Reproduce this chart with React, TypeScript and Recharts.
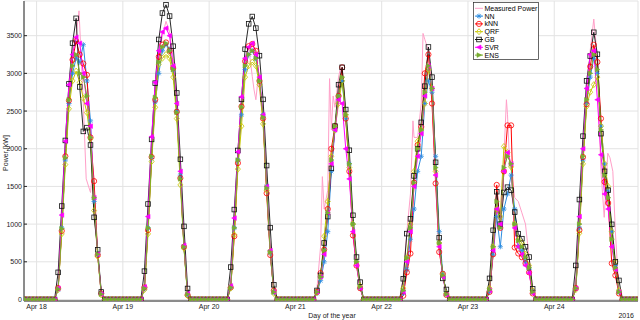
import React from 'react';
import { ComposedChart, Line, XAxis, YAxis, CartesianGrid } from 'recharts';

const FONT = '"Liberation Sans", Arial, Helvetica, sans-serif';

const dayTicks = [0, 24, 48, 72, 96, 120, 144];
const dayLabels = ['Apr 18', 'Apr 19', 'Apr 20', 'Apr 21', 'Apr 22', 'Apr 23', 'Apr 24'];
const powerTicks = [0, 500, 1000, 1500, 2000, 2500, 3000, 3500];

// forecasts are hourly, first value at Apr 17 21:00 (hour -3 from Apr 18 00:00)
const firstHour = -3;

const nn = [
  0, 0, 0,
  0, 0, 0, 0, 0, 0, 130, 950, 1850, 2600, 3000, 3200, 3150, 3380, 2900, 2370, 1300, 600, 80, 0, 0, 0, 0, 0,
  0, 0, 0, 0, 0, 0, 140, 950, 1870, 2620, 3000, 3300, 3380, 3320, 3050, 2500, 1650, 690, 60, 0, 0, 0, 0, 0,
  0, 0, 0, 0, 0, 0, 150, 950, 1850, 2450, 3050, 3250, 3300, 3200, 2900, 2450, 1500, 620, 90, 0, 0, 0, 0, 0,
  0, 0, 0, 0, 0, 0, 80, 250, 500, 900, 1700, 2250, 2700, 2900, 2400, 1800, 1000, 500, 150, 0, 0, 0, 0, 0,
  0, 0, 0, 0, 0, 0, 80, 400, 800, 1200, 1700, 1900, 2600, 2900, 2750, 1900, 900, 350, 80, 0, 0, 0, 0, 0,
  0, 0, 0, 0, 0, 0, 100, 600, 1100, 700, 1200, 1400, 1650, 1200, 700, 650, 500, 400, 100, 0, 0, 0, 0, 0,
  0, 0, 0, 0, 0, 0, 140, 950, 1850, 2600, 2950, 3200, 3000, 2300, 1800, 1450, 900, 450, 100, 0, 0, 0, 0, 0,
];

const knn = [
  0, 0, 0,
  0, 0, 0, 0, 0, 0, 150, 910, 1900, 2640, 3180, 3430, 3250, 3130, 2980, 2150, 1570, 590, 80, 0, 0, 0, 0, 0,
  0, 0, 0, 0, 0, 0, 160, 920, 1890, 2650, 3220, 3380, 3410, 3300, 3070, 2490, 1610, 700, 60, 0, 0, 0, 0, 0,
  0, 0, 0, 0, 0, 0, 160, 840, 1810, 2560, 3160, 3360, 3390, 3300, 2900, 2400, 1410, 590, 120, 0, 0, 0, 0, 0,
  0, 0, 0, 0, 0, 0, 100, 350, 660, 1200, 2000, 2300, 2700, 3080, 2400, 1700, 850, 450, 150, 0, 0, 0, 0, 0,
  0, 0, 0, 0, 0, 0, 50, 360, 610, 1550, 2050, 2290, 3000, 3250, 2600, 1540, 630, 340, 60, 0, 0, 0, 0, 0,
  0, 0, 0, 0, 0, 0, 100, 600, 1520, 950, 1700, 2310, 2310, 690, 610, 560, 480, 360, 80, 0, 0, 0, 0, 0,
  0, 0, 0, 0, 0, 0, 150, 920, 1890, 2590, 3090, 3380, 3150, 2400, 1560, 1280, 480, 320, 80, 0, 0, 0, 0, 0,
];

const qrf = [
  0, 0, 0,
  0, 0, 0, 0, 0, 0, 130, 870, 1790, 2530, 2900, 3030, 2880, 2670, 2480, 2130, 1180, 570, 60, 0, 0, 0, 0, 0,
  0, 0, 0, 0, 0, 0, 130, 870, 1830, 2550, 3120, 3200, 3250, 3200, 2950, 2400, 1520, 680, 50, 0, 0, 0, 0, 0,
  0, 0, 0, 0, 0, 0, 150, 860, 1730, 2300, 2950, 3100, 3150, 3100, 2850, 2330, 1450, 640, 80, 0, 0, 0, 0, 0,
  0, 0, 0, 0, 0, 0, 90, 300, 840, 1300, 1900, 2250, 2600, 2900, 2450, 1750, 1000, 500, 180, 0, 0, 0, 0, 0,
  0, 0, 0, 0, 0, 0, 150, 550, 1000, 1700, 2100, 2250, 2600, 3050, 2800, 1700, 750, 330, 80, 0, 0, 0, 0, 0,
  0, 0, 0, 0, 0, 0, 150, 700, 1200, 1100, 2030, 1950, 1760, 1000, 800, 750, 600, 450, 120, 0, 0, 0, 0, 0,
  0, 0, 0, 0, 0, 0, 130, 880, 1800, 2560, 2750, 2850, 2950, 2300, 1800, 1500, 900, 500, 120, 0, 0, 0, 0, 0,
];

const gb = [
  0, 0, 0,
  0, 0, 0, 0, 0, 0, 360, 1240, 2110, 2860, 3400, 3730, 2820, 2230, 2280, 2050, 1090, 660, 100, 0, 0, 0, 0, 0,
  0, 0, 0, 0, 0, 0, 376, 1267, 2124, 2870, 3450, 3800, 3910, 3760, 3360, 2740, 1860, 970, 146, 0, 0, 0, 0, 0,
  0, 0, 0, 0, 0, 0, 430, 1193, 1977, 2655, 3320, 3657, 3754, 3600, 3235, 2655, 1777, 953, 195, 0, 0, 0, 0, 0,
  0, 0, 0, 0, 0, 0, 120, 320, 750, 1100, 1740, 2300, 2850, 3080, 2520, 1980, 1117, 563, 230, 0, 0, 0, 0, 0,
  0, 0, 0, 0, 0, 0, 275, 874, 1070, 1640, 2000, 2350, 2830, 3350, 2950, 1820, 820, 280, 133, 0, 0, 0, 0, 0,
  0, 0, 0, 0, 0, 0, 280, 918, 1430, 1000, 1420, 1490, 1450, 1160, 873, 807, 700, 563, 142, 0, 0, 0, 0, 0,
  0, 0, 0, 0, 0, 0, 452, 1326, 2167, 2900, 3230, 3545, 3253, 2200, 1700, 1450, 997, 500, 253, 0, 0, 0, 0, 0,
];

const svr = [
  0, 0, 0,
  0, 0, 0, 0, 0, 0, 150, 1120, 2100, 2850, 3250, 3480, 3400, 3000, 2600, 2300, 1350, 600, 70, 0, 0, 0, 0, 0,
  0, 0, 0, 0, 0, 0, 170, 1100, 2160, 2880, 3300, 3550, 3600, 3500, 3100, 2600, 1700, 720, 80, 0, 0, 0, 0, 0,
  0, 0, 0, 0, 0, 0, 180, 1080, 1960, 2690, 3200, 3350, 3400, 3250, 2950, 2450, 1500, 650, 100, 0, 0, 0, 0, 0,
  0, 0, 0, 0, 0, 0, 100, 300, 600, 1150, 1800, 2250, 2650, 2600, 2000, 1600, 900, 450, 150, 0, 0, 0, 0, 0,
  0, 0, 0, 0, 0, 0, 100, 500, 900, 1500, 1900, 2200, 2700, 3100, 2800, 1650, 700, 300, 60, 0, 0, 0, 0, 0,
  0, 0, 0, 0, 0, 0, 120, 650, 1200, 1000, 1700, 1950, 1800, 950, 700, 600, 450, 350, 80, 0, 0, 0, 0, 0,
  0, 0, 0, 0, 0, 0, 150, 1100, 2000, 2800, 3250, 3300, 2650, 1920, 1400, 1200, 700, 400, 100, 0, 0, 0, 0, 0,
];

const ens = [
  0, 0, 0,
  0, 0, 0, 0, 0, 0, 140, 940, 1880, 2650, 3100, 3250, 3000, 2950, 2700, 2150, 1350, 600, 70, 0, 0, 0, 0, 0,
  0, 0, 0, 0, 0, 0, 150, 950, 1900, 2680, 3150, 3350, 3400, 3300, 3050, 2480, 1600, 700, 70, 0, 0, 0, 0, 0,
  0, 0, 0, 0, 0, 0, 160, 950, 1850, 2550, 3100, 3250, 3300, 3200, 2900, 2420, 1480, 630, 100, 0, 0, 0, 0, 0,
  0, 0, 0, 0, 0, 0, 100, 300, 650, 1150, 1850, 2300, 2700, 2950, 2450, 1800, 1000, 500, 170, 0, 0, 0, 0, 0,
  0, 0, 0, 0, 0, 0, 120, 550, 950, 1550, 2000, 2250, 2750, 3100, 2800, 1750, 750, 320, 70, 0, 0, 0, 0, 0,
  0, 0, 0, 0, 0, 0, 130, 700, 1300, 950, 1750, 1900, 1800, 1000, 780, 700, 560, 420, 100, 0, 0, 0, 0, 0,
  0, 0, 0, 0, 0, 0, 150, 1000, 1900, 2650, 3000, 3250, 3050, 2250, 1650, 1350, 800, 420, 100, 0, 0, 0, 0, 0,
];

// measured power has a finer, irregular time step
const measHour = [
  -3,
  5, 6, 7, 8, 9, 10, 11, 11.8, 13, 13.8, 15, 15.5, 16, 17, 18, 19,
  29, 30, 31, 32, 33, 34, 35, 36, 37, 38, 39, 40, 41, 42, 43,
  53, 54, 55, 56, 57, 58, 59, 60, 60.5, 61, 61.5, 62, 63, 64, 65, 66, 67,
  77, 78, 79, 79.5, 80, 81, 81.5, 82, 82.5, 83, 84, 84.5, 85, 86, 87, 88, 89, 90, 91,
  101, 102, 103, 104, 104.7, 105, 106, 107, 107.5, 108, 109, 110, 111, 112, 113, 114, 115,
  125, 126, 127, 128, 129, 130, 130.7, 131, 131.5, 132, 133, 134, 135, 136, 137, 138, 139,
  149, 150, 151, 152, 153, 154, 155, 156, 156.5, 157, 157.9, 158.9, 159.5, 160.3, 161, 161.6, 162, 163,
  167,
];
const measPower = [
  0,
  0, 150, 900, 1950, 2700, 3300, 3500, 3830, 2600, 1600, 1420, 1650, 1250, 620, 90, 0,
  0, 180, 1000, 1950, 2750, 3250, 3500, 3690, 3550, 3200, 2600, 1650, 720, 80, 0,
  0, 200, 900, 1800, 2600, 3200, 3350, 2960, 2780, 2650, 2880, 2800, 2350, 1500, 600, 100, 0,
  0, 150, 700, 1630, 1200, 1450, 2930, 2250, 2700, 2550, 2950, 3060, 2950, 2400, 1800, 1000, 500, 150, 0,
  0, 300, 900, 1400, 2370, 2150, 2150, 2600, 3530, 3450, 3300, 2650, 1650, 700, 300, 100, 0,
  0, 200, 800, 1300, 1150, 1900, 2650, 2450, 1900, 1750, 1350, 1300, 1150, 1000, 560, 150, 0,
  0, 300, 1100, 2000, 2750, 3300, 3720, 3200, 2300, 1700, 1090, 1940, 1880, 1700, 900, 430, 150, 0,
  0,
];

const rows = nn.map((v, i) => ({
  h: firstHour + i,
  nn: v,
  knn: knn[i],
  qrf: qrf[i],
  gb: gb[i],
  svr: svr[i],
  ens: ens[i],
}));
const measRows = measHour.map((h, i) => ({ h, p: measPower[i] }));

const COLORS = {
  meas: '#ff9fc8',
  nn: '#2b8ce0',
  knn: '#ff0000',
  qrf: '#c8c800',
  gb: '#111111',
  svr: '#ff00ff',
  ens: '#77ac30',
};

function shapeAt(shape: string, color: string, cx: number, cy: number, key?: string) {
  switch (shape) {
    case 'star':
      return (
        <g key={key} stroke={color} strokeWidth={0.8}>
          <line x1={cx - 2.6} y1={cy} x2={cx + 2.6} y2={cy} />
          <line x1={cx} y1={cy - 2.6} x2={cx} y2={cy + 2.6} />
          <line x1={cx - 1.9} y1={cy - 1.9} x2={cx + 1.9} y2={cy + 1.9} />
          <line x1={cx - 1.9} y1={cy + 1.9} x2={cx + 1.9} y2={cy - 1.9} />
        </g>
      );
    case 'circle':
      return <circle key={key} cx={cx} cy={cy} r={2.6} fill="none" stroke={color} strokeWidth={0.8} />;
    case 'diamond':
      return (
        <path key={key} d={`M${cx},${cy - 3}L${cx + 2.5},${cy}L${cx},${cy + 3}L${cx - 2.5},${cy}Z`}
          fill="none" stroke={color} strokeWidth={0.8} />
      );
    case 'square':
      return (
        <rect key={key} x={cx - 2.3} y={cy - 2.3} width={4.6} height={4.6}
          fill="none" stroke={color} strokeWidth={0.8} />
      );
    case 'left':
      return (
        <path key={key} d={`M${cx - 2.6},${cy}L${cx + 2},${cy - 2.3}L${cx + 2},${cy + 2.3}Z`}
          fill={color} stroke={color} strokeWidth={0.6} />
      );
    case 'right':
      return (
        <path key={key} d={`M${cx + 2.6},${cy}L${cx - 2},${cy - 2.3}L${cx - 2},${cy + 2.3}Z`}
          fill={color} stroke={color} strokeWidth={0.6} />
      );
    default:
      return <g key={key} />;
  }
}

function markerDot(shape: string, color: string) {
  return (props: any) => {
    const { cx, cy, index } = props;
    const key = `${shape}-${index}`;
    if (cx == null || cy == null) return <g key={key} />;
    return shapeAt(shape, color, cx, cy, key);
  };
}

const series = [
  { key: 'nn', name: 'NN', shape: 'star', color: COLORS.nn },
  { key: 'knn', name: 'kNN', shape: 'circle', color: COLORS.knn },
  { key: 'qrf', name: 'QRF', shape: 'diamond', color: COLORS.qrf },
  { key: 'gb', name: 'GB', shape: 'square', color: COLORS.gb },
  { key: 'svr', name: 'SVR', shape: 'left', color: COLORS.svr },
  { key: 'ens', name: 'ENS', shape: 'right', color: COLORS.ens },
];

const axisStroke = '#262626';
const tickStyle = { fontSize: 7, fill: '#1a1a1a', fontFamily: FONT };

function Legend() {
  const entries = [{ name: 'Measured Power', shape: 'none', color: COLORS.meas }, ...series];
  return (
    <g transform="translate(473.5, 2.5)">
      <rect x={0} y={0} width={65} height={57} fill="#fff" stroke={axisStroke} strokeWidth={0.7} />
      {entries.map((e, i) => {
        const y = 5.8 + i * 7.8;
        return (
          <g key={e.name}>
            <line x1={1.5} y1={y} x2={9.5} y2={y} stroke={e.color} strokeWidth={1} />
            {shapeAt(e.shape, e.color, 5.5, y)}
            <text x={11} y={y} dy="0.35em" fontSize={7} fontFamily={FONT} fill="#000">{e.name}</text>
          </g>
        );
      })}
    </g>
  );
}

export default function App() {
  return (
    <div style={{ position: 'absolute', left: 0, top: 0, width: 640, height: 320, background: '#fff' }}>
      <ComposedChart width={640} height={320} data={rows} margin={{ top: 1, right: 2, bottom: 0, left: 0 }}>
        <CartesianGrid stroke="#e3e3e3" strokeWidth={1} />
        <XAxis
          dataKey="h"
          type="number"
          domain={[-3.5, 167.3]}
          allowDataOverflow
          ticks={dayTicks}
          interval={0}
          tickFormatter={(v) => dayLabels[dayTicks.indexOf(v)]}
          height={19}
          axisLine={{ stroke: axisStroke }}
          tickLine={{ stroke: axisStroke }}
          tickSize={-3}
          tickMargin={6.5}
          tick={tickStyle}
        />
        <XAxis
          xAxisId="top"
          orientation="top"
          dataKey="h"
          type="number"
          domain={[-3.5, 167.3]}
          allowDataOverflow
          ticks={dayTicks}
          interval={0}
          height={0}
          axisLine={{ stroke: axisStroke }}
          tickLine={{ stroke: axisStroke }}
          tickSize={-3}
          tick={false}
        />
        <YAxis
          type="number"
          domain={[-20, 3960]}
          allowDataOverflow
          ticks={powerTicks}
          interval={0}
          width={24}
          axisLine={{ stroke: axisStroke }}
          tickLine={{ stroke: axisStroke }}
          tickSize={-3}
          tickMargin={5}
          tick={tickStyle}
        />
        <YAxis
          yAxisId="right"
          orientation="right"
          type="number"
          domain={[-20, 3960]}
          allowDataOverflow
          ticks={powerTicks}
          interval={0}
          width={0}
          axisLine={{ stroke: axisStroke }}
          tickLine={{ stroke: axisStroke }}
          tickSize={-3}
          tick={false}
        />
        <Line
          data={measRows}
          dataKey="p"
          type="linear"
          stroke={COLORS.meas}
          strokeWidth={1}
          dot={false}
          activeDot={false}
          isAnimationActive={false}
        />
        {series.map((s) => (
          <Line
            key={s.key}
            dataKey={s.key}
            type="linear"
            stroke={s.color}
            strokeWidth={s.key === 'gb' ? 0.9 : 1}
            dot={markerDot(s.shape, s.color)}
            activeDot={false}
            isAnimationActive={false}
          />
        ))}
      </ComposedChart>
      <svg width={640} height={320} style={{ position: 'absolute', left: 0, top: 0, pointerEvents: 'none' }}>
        <text x={6} y={153} transform="rotate(-90 6 153)" textAnchor="middle" dy="0.35em"
          fontSize={7} fontFamily={FONT} fill="#1a1a1a">Power [kW]</text>
        <text x={332} y={317.5} textAnchor="middle" fontSize={7} fontFamily={FONT} fill="#1a1a1a">Day of the year</text>
        <text x={634} y={317.5} textAnchor="end" fontSize={7} fontFamily={FONT} fill="#1a1a1a">2016</text>
        <Legend />
      </svg>
    </div>
  );
}
